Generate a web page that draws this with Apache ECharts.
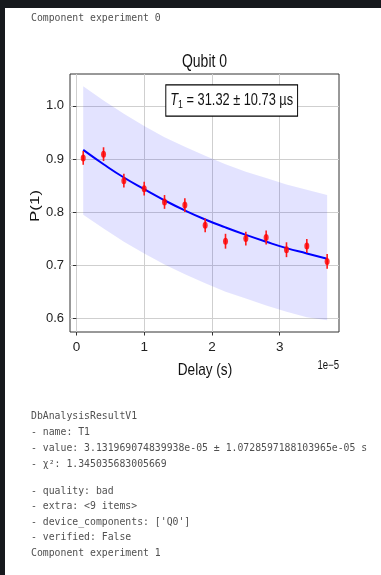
<!DOCTYPE html>
<html>
<head>
<meta charset="utf-8">
<script src="https://cdn.jsdelivr.net/npm/echarts@6/dist/echarts.min.js"></script>
<style>
    html, body { margin: 0; padding: 0; background: #fff; }
    #chart-t1 { width: 381px; height: 575px; }
</style>
</head>
<body>
<div id="chart-t1"></div>
<script>
// delay in units of 1e-5 s
let delays = [0.1, 0.4, 0.7, 1.0, 1.3, 1.6, 1.9, 2.2, 2.5, 2.8, 3.1, 3.4, 3.7];
let measured = [0.902, 0.909, 0.859, 0.844, 0.819, 0.813, 0.775, 0.745, 0.750, 0.752, 0.729, 0.736, 0.707];
let errors = [0.013, 0.013, 0.013, 0.013, 0.013, 0.013, 0.013, 0.014, 0.013, 0.013, 0.014, 0.013, 0.014];
let fitCurve = [0.917, 0.890, 0.865, 0.843, 0.822, 0.803, 0.786, 0.771, 0.757, 0.744, 0.732, 0.722, 0.712];
let bandUpper = [1.037, 1.010, 0.985, 0.962, 0.941, 0.923, 0.906, 0.890, 0.876, 0.864, 0.852, 0.842, 0.832];
let bandLower = [0.795, 0.769, 0.744, 0.722, 0.701, 0.683, 0.666, 0.650, 0.637, 0.624, 0.612, 0.602, 0.596];
let xTicks = [0, 1, 2, 3];
let yTicks = [0.6, 0.7, 0.8, 0.9, 1.0];
let reportHead = [
    "DbAnalysisResultV1",
    "- name: T1",
    "- value: 3.131969074839938e-05 ± 1.0728597188103965e-05 s",
    "- χ²: 1.345035683005669",
];
let reportTail = [
    "- quality: bad",
    "- extra: <9 items>",
    "- device_components: ['Q0']",
    "- verified: False",
    "Component experiment 1",
];

const SANS = '"Liberation Sans", Arial, sans-serif';
const MONO = '"DejaVu Sans Mono", "Liberation Mono", monospace';
// the plot image is squeezed sideways in the notebook, so plot texts are narrowed
const SQUEEZE = 0.8;

let myChart = echarts.init(document.getElementById("chart-t1"));

function monoText(text, y) {
    return {
        type: "text",
        x: 31,
        y: y,
        style: {
            text: text,
            font: '9.8px ' + MONO,
            fill: "#505050",
            verticalAlign: "middle",
        },
    };
}

function plotText(text, x, y, size, align) {
    return {
        type: "text",
        x: x,
        y: y,
        scaleX: SQUEEZE,
        style: {
            text: text,
            font: size + 'px ' + SANS,
            fill: "#111",
            align: align || "center",
            verticalAlign: "middle",
        },
    };
}

let graphics = [
    { type: "rect", shape: { x: 0, y: 0, width: 381, height: 8 }, style: { fill: "#16191d" } },
    { type: "rect", shape: { x: 0, y: 0, width: 5, height: 575 }, style: { fill: "#16191d" } },
    monoText("Component experiment 0", 18),
    plotText("Qubit 0", 204.5, 62, 17.5),
    plotText("Delay (s)", 205, 370, 17),
    plotText("1e\u22125", 339, 366, 12, "right"),
    {
        type: "text",
        x: 35.5,
        y: 206,
        rotation: Math.PI / 2,
        scaleY: SQUEEZE,
        style: {
            text: "P(1)",
            font: '17px ' + SANS,
            fill: "#111",
            align: "center",
            verticalAlign: "middle",
        },
    },
    {
        type: "text",
        x: 231.7,
        y: 100.5,
        z: 100,
        scaleX: SQUEEZE,
        style: {
            text: "{it|T}{sub|1}{n| = 31.32 ± 10.73 µs}",
            align: "center",
            verticalAlign: "middle",
            backgroundColor: "#fff",
            borderColor: "#000",
            borderWidth: 1.2,
            padding: [5, 5, 5, 5],
            rich: {
                it: { font: 'italic 16px ' + SANS, fill: "#111", lineHeight: 20 },
                sub: { font: '11px ' + SANS, fill: "#111", lineHeight: 20, verticalAlign: "bottom", padding: [6, 0, 0, 0] },
                n: { font: '16px ' + SANS, fill: "#111", lineHeight: 20 },
            },
        },
    },
];
reportHead.forEach((t, i) => graphics.push(monoText(t, 416.5 + i * 16)));
reportTail.forEach((t, i) => graphics.push(monoText(t, 491 + i * 15.6)));

let option = {
    backgroundColor: "#fff",
    animation: false,
    grid: {
        left: 70,
        right: 42,
        top: 74,
        bottom: 243,
        show: true,
        borderColor: "#333",
        borderWidth: 1,
        backgroundColor: "transparent",
    },
    xAxis: {
        type: "value",
        min: -0.095,
        max: 3.875,
        axisLine: { show: false },
        axisTick: { show: true, length: 3.5, customValues: xTicks, lineStyle: { color: "#333" } },
        axisLabel: {
            customValues: xTicks,
            margin: 8,
            fontFamily: SANS,
            fontSize: 13.5,
            color: "#222",
            formatter: (v) => String(v),
        },
        splitLine: { show: true, lineStyle: { color: "#cfcfcf", width: 1 } },
    },
    yAxis: {
        type: "value",
        min: 0.574,
        max: 1.06,
        axisLine: { show: false },
        axisTick: { show: true, length: 3.5, customValues: yTicks, lineStyle: { color: "#333" } },
        axisLabel: {
            customValues: yTicks,
            margin: 6,
            fontFamily: SANS,
            fontSize: 13,
            color: "#222",
            formatter: (v) => v.toFixed(1),
        },
        splitLine: { show: true, lineStyle: { color: "#cfcfcf", width: 1 } },
    },
    series: [
        {
            name: "band",
            type: "custom",
            data: [[delays[0], bandUpper[0]]],
            encode: { x: 0, y: 1 },
            renderItem: function (params, api) {
                let pts = [];
                delays.forEach((d, i) => pts.push(api.coord([d, bandUpper[i]])));
                for (let i = delays.length - 1; i >= 0; i--) {
                    pts.push(api.coord([delays[i], bandLower[i]]));
                }
                return {
                    type: "polygon",
                    shape: { points: pts },
                    style: { fill: "rgba(0, 0, 255, 0.11)" },
                };
            },
            z: 1,
        },
        {
            name: "fit",
            type: "line",
            symbol: "none",
            smooth: true,
            lineStyle: { color: "#0000ff", width: 2 },
            data: delays.map((d, i) => [d, fitCurve[i]]),
            z: 3,
        },
        {
            name: "errorbars",
            type: "custom",
            data: delays.map((d, i) => [d, measured[i], errors[i]]),
            encode: { x: 0, y: 1 },
            renderItem: function (params, api) {
                let x = api.value(0), y = api.value(1), e = api.value(2);
                let top = api.coord([x, y + e]), bot = api.coord([x, y - e]);
                return {
                    type: "line",
                    shape: { x1: top[0], y1: top[1], x2: bot[0], y2: bot[1] },
                    style: { stroke: "#ff1a1a", lineWidth: 1.6 },
                };
            },
            z: 4,
        },
        {
            name: "data",
            type: "scatter",
            symbol: "circle",
            symbolSize: [5, 7],
            itemStyle: { color: "#ff0000" },
            data: delays.map((d, i) => [d, measured[i]]),
            z: 5,
        },
    ],
    graphic: graphics,
};
option && myChart.setOption(option);
</script>
</body>
</html>
